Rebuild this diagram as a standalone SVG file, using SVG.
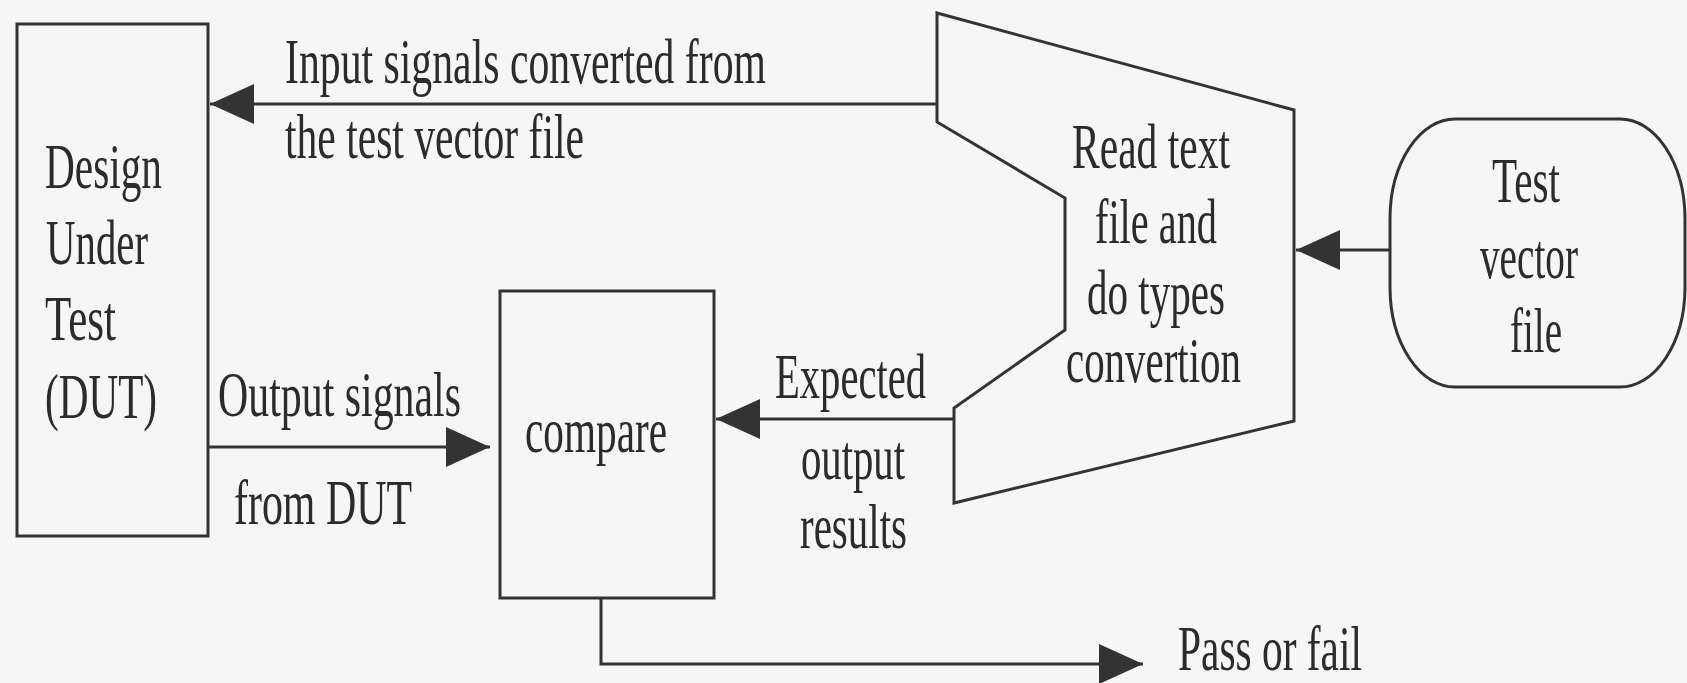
<svg xmlns="http://www.w3.org/2000/svg" width="1687" height="683" viewBox="0 0 1687 683">
<style>
.shape{fill:none;stroke:#333;stroke-width:3}
.conn{fill:none;stroke:#333;stroke-width:3}
text{font-family:"Liberation Serif","Times New Roman",serif;font-size:63px;fill:#2b2b2b}
</style>
<defs>
<marker id="arrow" markerUnits="userSpaceOnUse" markerWidth="46" markerHeight="42" refX="44" refY="20" orient="auto">
<path d="M0,0 L44,20 L0,40 Z" fill="#333"/>
</marker>
</defs>
<rect width="1687" height="683" fill="#f6f6f6"/>
<g id="connectors">
<line class="conn" x1="937" y1="104" x2="210" y2="104" marker-end="url(#arrow)"/>
<line class="conn" x1="208" y1="447" x2="490" y2="447" marker-end="url(#arrow)"/>
<line class="conn" x1="954" y1="419" x2="716" y2="419" marker-end="url(#arrow)"/>
<line class="conn" x1="1390" y1="250" x2="1296" y2="250" marker-end="url(#arrow)"/>
<polyline class="conn" points="601,598 601,664 1143,664" marker-end="url(#arrow)"/>
</g>
<g id="dut">
<rect class="shape" x="17" y="24" width="191" height="512"/>
<text x="45" y="188" textLength="117" lengthAdjust="spacingAndGlyphs">Design</text>
<text x="46" y="264" textLength="102" lengthAdjust="spacingAndGlyphs">Under</text>
<text x="45" y="340" textLength="71" lengthAdjust="spacingAndGlyphs">Test</text>
<text x="45" y="418" textLength="112" lengthAdjust="spacingAndGlyphs">(DUT)</text>
</g>
<g id="compare">
<rect class="shape" x="500" y="291" width="214" height="307"/>
<text x="525" y="452" textLength="142" lengthAdjust="spacingAndGlyphs">compare</text>
</g>
<g id="reader">
<polygon class="shape" points="937,13 1294,110 1294,421 954,503 954,408 1065,330 1065,198 937,122"/>
<text x="1072" y="168" textLength="158" lengthAdjust="spacingAndGlyphs">Read text</text>
<text x="1095" y="243" textLength="122" lengthAdjust="spacingAndGlyphs">file and</text>
<text x="1087" y="314" textLength="138" lengthAdjust="spacingAndGlyphs">do types</text>
<text x="1066" y="382" textLength="175" lengthAdjust="spacingAndGlyphs">convertion</text>
</g>
<g id="testvector">
<path class="shape" d="M1455,119 H1620 A65,100 0 0 1 1685,219 V287 A65,100 0 0 1 1620,387 H1455 A65,100 0 0 1 1390,287 V219 A65,100 0 0 1 1455,119 Z"/>
<text x="1492" y="202" textLength="68" lengthAdjust="spacingAndGlyphs">Test</text>
<text x="1480" y="278" textLength="98" lengthAdjust="spacingAndGlyphs">vector</text>
<text x="1510" y="352" textLength="52" lengthAdjust="spacingAndGlyphs">file</text>
</g>
<g id="labels">
<text x="285" y="83" textLength="481" lengthAdjust="spacingAndGlyphs">Input signals converted from</text>
<text x="285" y="158" textLength="299" lengthAdjust="spacingAndGlyphs">the test vector file</text>
<text x="218" y="416" textLength="243" lengthAdjust="spacingAndGlyphs">Output signals</text>
<text x="234" y="524" textLength="178" lengthAdjust="spacingAndGlyphs">from DUT</text>
<text x="775" y="398" textLength="151" lengthAdjust="spacingAndGlyphs">Expected</text>
<text x="801" y="479" textLength="104" lengthAdjust="spacingAndGlyphs">output</text>
<text x="800" y="548" textLength="107" lengthAdjust="spacingAndGlyphs">results</text>
<text x="1178" y="670" textLength="184" lengthAdjust="spacingAndGlyphs">Pass or fail</text>
</g>
</svg>
